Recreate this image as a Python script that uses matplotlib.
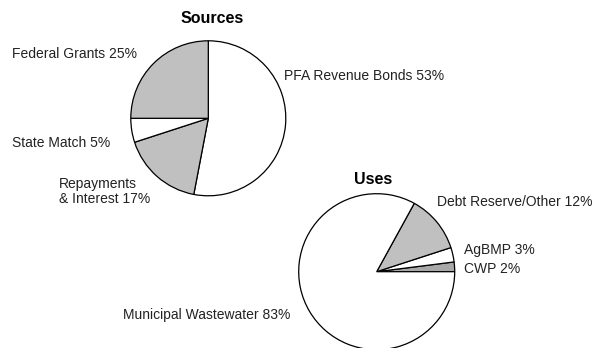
import matplotlib.pyplot as plt

plt.rcParams["font.family"] = ["Liberation Sans", "DejaVu Sans"]

# Sources of funds (percent)
src_names = ["PFA Revenue Bonds", "Repayments\n& Interest", "State Match", "Federal Grants"]
src_pct = [53, 17, 5, 25]
src_colors = ["white", "#c0c0c0", "white", "#c0c0c0"]

# Uses of funds (percent)
use_names = ["CWP", "AgBMP", "Debt Reserve/Other", "Municipal Wastewater"]
use_pct = [2, 3, 12, 83]
use_colors = ["#a8a8a8", "white", "#c0c0c0", "white"]

W, H = 593, 348
fig = plt.figure(figsize=(W / 100, H / 100), dpi=100)
ax = fig.add_axes([0, 0, 1, 1])

wp = dict(edgecolor="black", linewidth=0.9)
ax.pie(src_pct, colors=src_colors, startangle=90, counterclock=False,
       center=(208.3, H - 118.3), radius=77.5, wedgeprops=wp, frame=True)
ax.pie(use_pct, colors=use_colors, startangle=0, counterclock=True,
       center=(376.7, H - 271.7), radius=78, wedgeprops=wp, frame=True)

ax.set_xlim(0, W)
ax.set_ylim(0, H)
ax.set_aspect("equal")
ax.axis("off")

fs = 10
tc = "#222222"
ax.text(212.5, H - 23, "Sources", ha="center", va="baseline", fontsize=11.5,
        fontweight="bold", color="black")
ax.text(373, H - 184, "Uses", ha="center", va="baseline", fontsize=11.5,
        fontweight="bold", color="black")

# label anchors: left edge and last-line baseline
src_pos = [(284, 80), (59, 203), (12, 147), (12, 58)]
for name, pct, (x, y) in zip(src_names, src_pct, src_pos):
    ax.text(x, H - y, f"{name} {pct}%", ha="left", va="baseline",
            fontsize=fs, color=tc, linespacing=1.05)

use_pos = [(464, 273), (464, 254), (437, 206), (123, 319)]
for name, pct, (x, y) in zip(use_names, use_pct, use_pos):
    ax.text(x, H - y, f"{name} {pct}%", ha="left", va="baseline",
            fontsize=fs, color=tc)

fig.savefig("out.png", dpi=100)
